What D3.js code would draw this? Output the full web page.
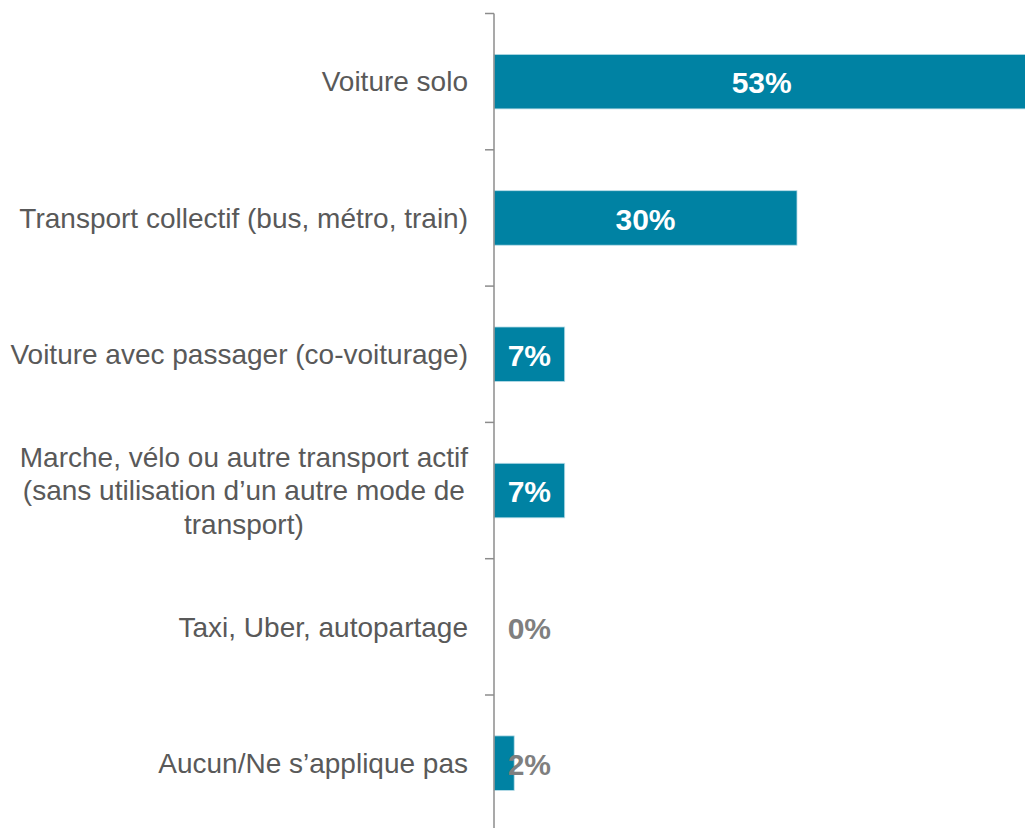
<!DOCTYPE html>
<html>
<head>
<meta charset="utf-8">
<script src="https://d3js.org/d3.v7.min.js"></script>
<style>
	body { margin: 0; background: #fff; }
	svg { display: block; font-family: "Liberation Sans", Arial, sans-serif; }
</style>
</head>
<body>
<div id="chart"></div>
<script>
// categories and values (percent)
var categories = [
	"Voiture solo",
	"Transport collectif (bus, métro, train)",
	"Voiture avec passager (co-voiturage)",
	"Marche, vélo ou autre transport actif (sans utilisation d’un autre mode de transport)",
	"Taxi, Uber, autopartage",
	"Aucun/Ne s’applique pas"
];
var values = [53, 30, 7, 7, 0, 2];
// how each label is broken into lines
var labelLines = [
	["Voiture solo"],
	["Transport collectif (bus, métro, train)"],
	["Voiture avec passager (co-voiturage)"],
	["Marche, vélo ou autre transport actif", "(sans utilisation d’un autre mode de", "transport)"],
	["Taxi, Uber, autopartage"],
	["Aucun/Ne s’applique pas"]
];

var W = 1025, H = 828;
var x0 = 494, yTop = 13.5, step = 136.3;

var svg = d3.select("#chart").append("svg")
	.attr("width", W)
	.attr("height", H);

var x = d3.scaleLinear().domain([0, 10]).range([x0, x0 + 101]);
var y = d3.scaleBand()
	.domain(categories)
	.range([yTop, yTop + step * categories.length])
	.paddingInner(0.6)
	.paddingOuter(0.3);

// bars
svg.selectAll(".bar")
	.data(values)
	.enter().append("rect")
	.attr("class", "bar")
	.attr("x", x(0))
	.attr("y", function(d, i) { return y(categories[i]); })
	.attr("width", function(d) { return x(d) - x(0); })
	.attr("height", y.bandwidth())
	.attr("fill", "#0082a3")
	.attr("stroke", function(d) { return d > 0 ? "#b9dde8" : "none"; })
	.attr("stroke-width", 0.8);

// axis line with ticks between categories
svg.append("line")
	.attr("x1", x0).attr("x2", x0)
	.attr("y1", yTop).attr("y2", H + 5)
	.attr("stroke", "#8c8c8c").attr("stroke-width", 1.5);

var tickPos = d3.range(categories.length + 1).map(function(i) { return yTop + i * step; });
svg.selectAll(".tick")
	.data(tickPos)
	.enter().append("line")
	.attr("x1", x0 - 9).attr("x2", x0)
	.attr("y1", function(d) { return d; })
	.attr("y2", function(d) { return d; })
	.attr("stroke", "#8c8c8c").attr("stroke-width", 1.5);

// value labels
svg.selectAll(".val")
	.data(values)
	.enter().append("text")
	.attr("class", "val")
	.attr("x", function(d) { return x(Math.max(d, 7) / 2); })
	.attr("y", function(d, i) { return y(categories[i]) + y.bandwidth() / 2 + 1; })
	.attr("dy", "0.36em")
	.attr("text-anchor", "middle")
	.attr("font-size", 30)
	.attr("font-weight", "bold")
	.attr("fill", function(d) { return d < 5 ? "#7f7f7f" : "#ffffff"; })
	.text(function(d) { return d + "%"; });

// category labels
var lineH = 33.5;
var labels = svg.selectAll(".cat")
	.data(labelLines)
	.enter().append("text")
	.attr("class", "cat")
	.attr("font-size", 28)
	.attr("fill", "#595959");

labels.each(function(lines, i) {
	var t = d3.select(this);
	var cy = y(categories[i]) + y.bandwidth() / 2;
	var y0 = cy - (lines.length - 1) * lineH / 2;
	lines.forEach(function(s, j) {
		t.append("tspan")
			.attr("y", y0 + j * lineH)
			.attr("dy", "0.35em")
			.text(s);
	});
	var spans = t.selectAll("tspan");
	var widths = spans.nodes().map(function(n) { return n.getComputedTextLength(); });
	var maxW = d3.max(widths);
	var right = x0 - 26;
	var cx = right - maxW / 2;
	spans.attr("x", cx).attr("text-anchor", "middle");
});
</script>
</body>
</html>
